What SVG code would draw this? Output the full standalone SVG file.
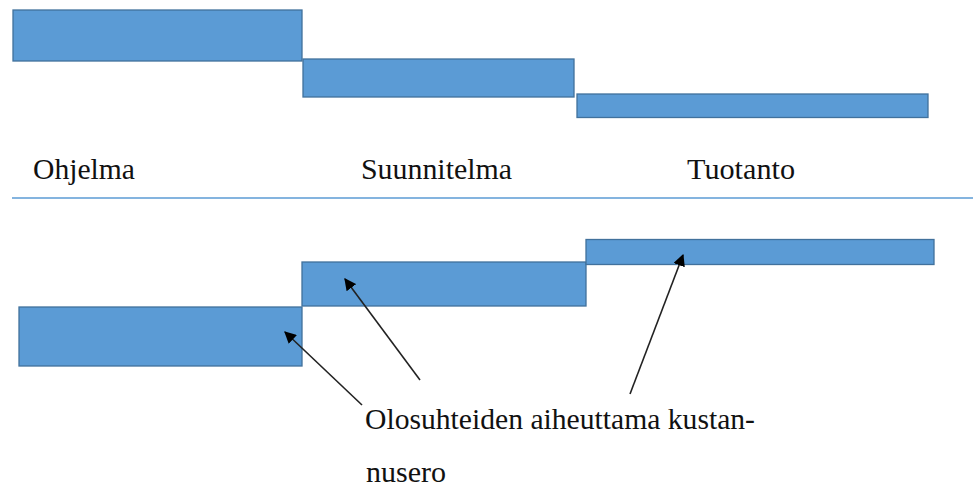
<svg xmlns="http://www.w3.org/2000/svg" width="976" height="487" viewBox="0 0 976 487">
  <style>
    .bar { fill: #5B9BD5; stroke: #41719C; stroke-width: 1.3; }
    .lbl { font-family: 'Liberation Serif', 'DejaVu Serif', 'Times New Roman', serif; font-size: 30px; fill: #111; }
    .conn { stroke: #222; stroke-width: 1.6; fill: none; marker-end: url(#ah); }
  </style>
  <defs>
    <marker id="ah" viewBox="0 0 10 10" refX="9" refY="5" markerWidth="12" markerHeight="12" markerUnits="userSpaceOnUse" orient="auto">
      <path d="M0,0 L10,5 L0,10 Z" fill="#000"/>
    </marker>
  </defs>
  <rect width="976" height="487" fill="#fff"/>
  <g id="top-ohjelma"><rect class="bar" x="13" y="10" width="289" height="51"/></g>
  <g id="top-suunnitelma"><rect class="bar" x="303" y="59" width="271" height="38"/></g>
  <g id="top-tuotanto"><rect class="bar" x="577" y="94" width="351" height="23.5"/></g>
  <g id="labels">
    <text class="lbl" x="33" y="179" textLength="102" lengthAdjust="spacingAndGlyphs">Ohjelma</text>
    <text class="lbl" x="361" y="179" textLength="151" lengthAdjust="spacingAndGlyphs">Suunnitelma</text>
    <text class="lbl" x="687" y="179" textLength="108" lengthAdjust="spacingAndGlyphs">Tuotanto</text>
  </g>
  <g id="divider"><line x1="12" y1="198" x2="973" y2="198" stroke="#5B9BD5" stroke-width="1.5"/></g>
  <g id="bottom-ohjelma"><rect class="bar" x="19" y="307" width="283" height="59"/></g>
  <g id="bottom-suunnitelma"><rect class="bar" x="302" y="262" width="284" height="44"/></g>
  <g id="bottom-tuotanto"><rect class="bar" x="586" y="239.5" width="348" height="25"/></g>
  <g id="connectors">
    <line class="conn" x1="362" y1="405" x2="285" y2="332"/>
    <line class="conn" x1="420" y1="380" x2="345" y2="279"/>
    <line class="conn" x1="630" y1="394" x2="683" y2="255"/>
  </g>
  <g id="note">
    <text class="lbl" x="365" y="429" textLength="390" lengthAdjust="spacingAndGlyphs">Olosuhteiden aiheuttama kustan-</text>
    <text class="lbl" x="366" y="482">nusero</text>
  </g>
</svg>
